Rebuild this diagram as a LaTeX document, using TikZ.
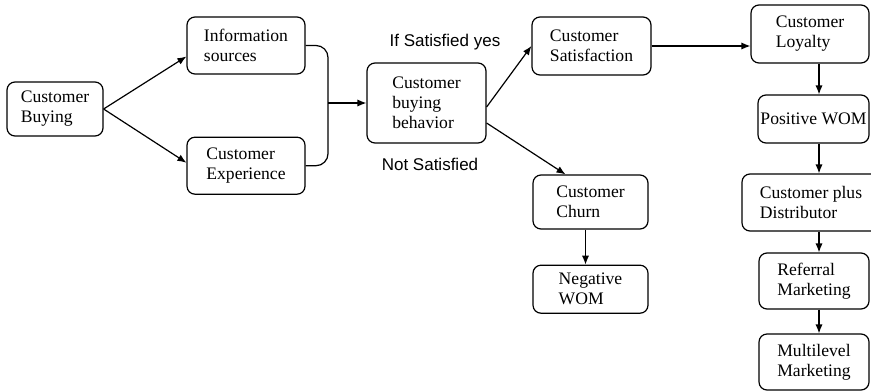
\documentclass[tikz,border=0pt]{standalone}
\usepackage{fontspec}
\setmainfont{Liberation Serif}
\newfontfamily\labelfont{Liberation Sans}
\usetikzlibrary{positioning,calc,arrows.meta}

\begin{document}
\begin{tikzpicture}[x=0.5pt, y=-0.5pt, node distance=17.5pt, line width=0.6pt, block/.style={rectangle, draw, align=left, rounded corners=4pt, inner sep=0pt, font=\fontsize{8.8}{10}\selectfont}, line/.style={draw, -{Latex[length=4.5pt,width=3.6pt]}}, cond/.style={font=\labelfont\fontsize{8.5}{10}\selectfont}]
        \useasboundingbox (0,0) rectangle (871,391);
        \clip (0,0) rectangle (871,391);

        % Nodes
        \node [block, minimum width=48pt, minimum height=27pt] (buying) at (55,109) {Customer\\Buying};
        \node [block, minimum width=59pt, minimum height=28.5pt] (sources) at (246,45.5) {Information\\sources};
        \node [block, minimum width=59pt, minimum height=28.5pt, below=31pt of sources] (experience) {Customer\\Experience};
        \node [block, minimum width=59.5pt, minimum height=40pt] (behavior) at (426.5,103) {Customer\\buying\\behavior};
        \node [block, minimum width=59.5pt, minimum height=29pt] (satisfaction) at (591.5,46) {Customer\\Satisfaction};
        \node [block, minimum width=57.5pt, minimum height=27pt] (churn) at (590.5,202) {Customer\\Churn};
        \node [block, minimum width=57.5pt, minimum height=24pt, below=of churn] (negative) {Negative\\WOM};
        \node [block, minimum width=59pt, minimum height=29pt] (loyalty) at (810,34) {Customer\\Loyalty};
        \node [block, minimum width=55.5pt, minimum height=24pt] (positive) at (813.5,119) {Positive WOM};
        \node [block, minimum width=69pt, minimum height=28.5pt] (distributor) at (811,202.5) {Customer plus\\Distributor};
        \node [block, minimum width=55pt, minimum height=28pt] (referral) at (814,281) {Referral\\Marketing};
        \node [block, minimum width=55pt, minimum height=28pt] (multilevel) at (814,362) {Multilevel\\Marketing};

        % Conditions
        \node [cond] (yes) at (445,42) {If Satisfied yes};
        \node [cond] (no) at (430,164) {Not Satisfied};

        \coordinate (merge) at (328,103);
        \coordinate (spine) at (819,0);

        % Arrows
        \path [line] (buying.east) -- ($(sources.west)+(0,11)$);
        \path [line] (buying.east) -- ($(experience.west)+(0,-3)$);
        \draw [rounded corners=6pt] (sources.east) -| (merge) |- (experience.east);
        \path [line] (merge) -- (behavior.west);
        \path [line] ($(behavior.east)+(0,4)$) -- (satisfaction.west);
        \path [line] ($(behavior.east)+(0,20)$) -- ($(churn.north)+(-25,0)$);
        \path [line] ($(churn.south)+(-5,0)$) -- ($(negative.north)+(-5,0)$);
        \path [line] (satisfaction.east) -- (satisfaction.east -| loyalty.west);
        \path [line] (loyalty.south -| spine) -- (positive.north -| spine);
        \path [line] (positive.south -| spine) -- (distributor.north -| spine);
        \path [line] (distributor.south -| spine) -- (referral.north -| spine);
        \path [line] (referral.south -| spine) -- (multilevel.north -| spine);
    \end{tikzpicture}
\end{document}
